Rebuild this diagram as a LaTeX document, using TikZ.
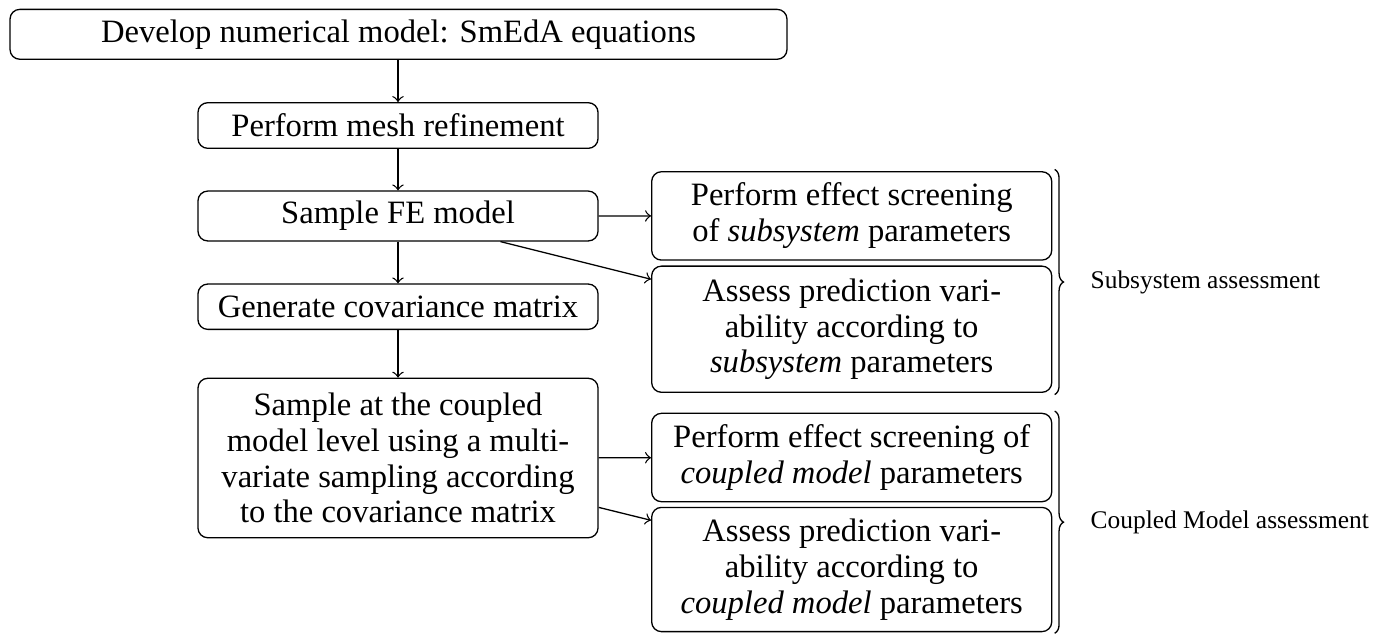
\documentclass[tikz,border=0pt]{standalone}
\usepackage{fontspec}
\setmainfont{Liberation Serif}
\usetikzlibrary{decorations.pathreplacing}
\begin{document}
\begin{tikzpicture}[x=0.3067pt,y=-0.3067pt,
  box/.style={draw, rounded corners=3pt, inner sep=0pt, align=center,
    font=\fontsize{10}{11}\selectfont, minimum width=122.7pt},
  lab/.style={anchor=west, inner sep=0pt, font=\fontsize{7.8}{9}\selectfont},
  arr/.style={->},
  brc/.style={decorate, decoration={brace, amplitude=2.7pt}}]
\useasboundingbox (0,0) rectangle (1388,633);
\node[box, minimum width=238.3pt, minimum height=15.3pt] (b1) at (398.5,34.3) {Develop numerical model: SmEdA equations};
\node[box, minimum height=14pt] (b2) at (398,125.5) {Perform mesh refinement};
\node[box, minimum height=15.3pt] (b3) at (398,216) {Sample FE model};
\node[box, minimum height=13.9pt] (b4) at (398,306.7) {Generate covariance matrix};
\node[box, minimum height=48.9pt] (b5) at (398,458) {Sample at the coupled\\model level using a multi-\\variate sampling according\\to the covariance matrix};
\node[box, minimum height=27.1pt] (r1) at (851.7,215.9) {Perform effect screening\\of \textit{subsystem} parameters};
\node[box, minimum height=38.7pt] (r2) at (851.7,329.2) {Assess prediction vari-\\ability according to\\\textit{subsystem} parameters};
\node[box, minimum height=27.1pt] (r3) at (851.7,457.5) {Perform effect screening of\\\textit{coupled model} parameters};
\node[box, minimum height=38.1pt] (r4) at (851.7,569.5) {Assess prediction vari-\\ability according to\\\textit{coupled model} parameters};
\draw[arr] (b2.north |- b1.south) -- (b2.north);
\draw[arr] (b2) -- (b3);
\draw[arr] (b3) -- (b4);
\draw[arr] (b4) -- (b5);
\draw[arr] (b3) -- (r1);
\draw[arr] (b3) -- (r2);
\draw[arr] (b5) -- (r3);
\draw[arr] (b5) -- (r4);
\draw[brc] ([xshift=0.7pt,yshift=0.5pt]r1.north east) -- ([xshift=0.7pt,yshift=-0.5pt]r2.south east);
\draw[brc] ([xshift=0.7pt,yshift=0.5pt]r3.north east) -- ([xshift=0.7pt,yshift=-0.3pt]r4.south east);
\node[lab] (l1) at (1090,282) {Subsystem assessment};
\node[lab] (l2) at (1090,522) {Coupled Model assessment};
\end{tikzpicture}
\end{document}
